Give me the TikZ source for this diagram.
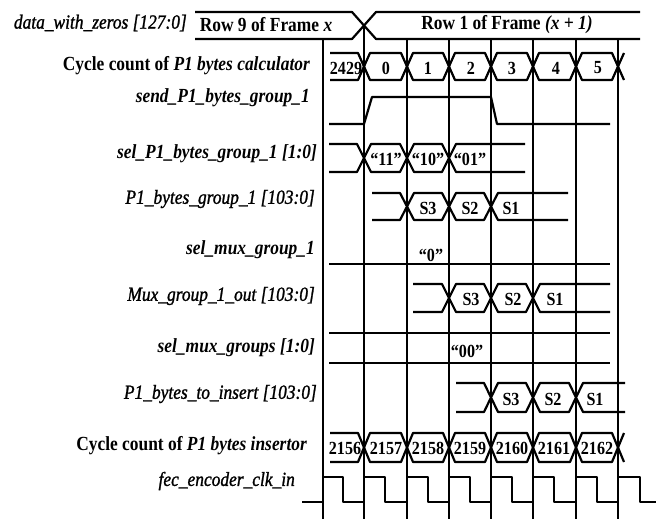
\documentclass[tikz,border=0pt]{standalone}
\usepackage{fontspec}
\setmainfont{Liberation Serif}[FakeStretch=0.87]
\newfontface\meditfont{Liberation Serif Italic}[FakeStretch=0.87, FakeBold=1.2]
\newcommand\lfont{\fontsize{20}{22}\selectfont}
\newcommand\vfont{\fontsize{18.5}{20}\selectfont\bfseries}
\newcommand{\tdHex}[5]{%
  \draw[bus] ({#1+#5},#3) -- ({#2-#5},#3) -- (#2,{(#3+#4)/2}) -- ({#2-#5},#4) -- ({#1+#5},#4) -- (#1,{(#3+#4)/2}) -- cycle;}
\newcommand{\tdOpenL}[5]{%
  \draw[bus] (#1,#3) -- ({#2-#5},#3) -- (#2,{(#3+#4)/2}) -- ({#2-#5},#4) -- (#1,#4);}
\newcommand{\tdOpenR}[5]{%
  \draw[bus] (#2,#3) -- ({#1+#5},#3) -- (#1,{(#3+#4)/2}) -- ({#1+#5},#4) -- (#2,#4);}
\newcommand{\tdEndX}[4]{%
  \draw[bus] ({#1+#4},#2) -- (#1,{(#2+#3)/2}) -- ({#1+#4},#3);}
\tikzset{
  bus/.style={line width=2.2pt, line join=round},
  gridline/.style={line width=1.6pt},
  lbl/.style={anchor=east, inner sep=0pt, font=\lfont},
  val/.style={inner sep=0pt, font=\vfont},
  rowtxt/.style={inner sep=0pt, font=\lfont\bfseries}
}
\begin{document}
\begin{tikzpicture}[x=1pt,y=-1pt]
\useasboundingbox (0,0) rectangle (656,519);
% grid
\foreach \gx in {323,407,449,491,533,576,618} \draw[gridline] (\gx,39) -- (\gx,519);
\draw[gridline] (364,25) -- (364,519);
% signal names
\node[lbl] (n1) at (187,23) {\meditfont data\_with\_zeros [127:0]};
\node[lbl] (n2) at (310,66) {\bfseries Cycle count of \itshape P1 bytes calculator};
\node[lbl] (n3) at (310,98) {\bfseries\itshape send\_P1\_bytes\_group\_1};
\node[lbl] (n4) at (317,154) {\bfseries\itshape sel\_P1\_bytes\_group\_1 [1:0]};
\node[lbl] (n5) at (315,199) {\meditfont P1\_bytes\_group\_1 [103:0]};
\node[lbl] (n6) at (315,250) {\bfseries\itshape sel\_mux\_group\_1};
\node[lbl] (n7) at (315,296) {\meditfont Mux\_group\_1\_out [103:0]};
\node[lbl] (n8) at (315,348) {\bfseries\itshape sel\_mux\_groups [1:0]};
\node[lbl] (n9) at (317,394) {\meditfont P1\_bytes\_to\_insert [103:0]};
\node[lbl] (n10) at (307,446) {\bfseries Cycle count of \itshape P1 bytes insertor};
\node[lbl] (n11) at (295,481) {\meditfont fec\_encoder\_clk\_in};
% data_with_zeros
\tdOpenL{195}{364}{12}{39}{12}
\tdOpenR{364}{640}{12}{39}{12}
\node[rowtxt] (r9) at (266,25) {Row 9 of Frame \itshape x};
\node[rowtxt] (r1) at (507,25) {Row 1 of Frame \itshape (x + 1)};
% cycle count calculator
\tdOpenL{330}{364}{53}{80}{6}
\tdHex{364}{407}{53}{80}{6}
\tdHex{407}{449}{53}{80}{6}
\tdHex{449}{491}{53}{80}{6}
\tdHex{491}{533}{53}{80}{6}
\tdHex{533}{576}{53}{80}{6}
\tdHex{576}{618}{53}{80}{6}
\tdEndX{618}{53}{80}{6}
\node[val] (c0) at (346,68) {2429};
\node[val] (c1) at (386,68) {0};
\node[val] (c2) at (428,68) {1};
\node[val] (c3) at (471,68) {2};
\node[val] (c4) at (512,68) {3};
\node[val] (c5) at (556,68) {4};
\node[val] (c6) at (598,68) {5};
% send
\draw[bus] (329,124) -- (364,124) -- (372,97) -- (491,97) -- (497,124) -- (610,124);
% sel_P1_bytes_group_1
\tdOpenL{329}{364}{144}{172}{7}
\tdHex{364}{407}{144}{172}{7}
\tdHex{407}{449}{144}{172}{7}
\tdOpenR{449}{525}{144}{172}{7}
\node[val] (s1) at (386,159) {“11”};
\node[val] (s2) at (428,159) {“10”};
\node[val] (s3) at (470,159) {“01”};
% P1_bytes_group_1
\tdOpenL{372}{407}{193}{220}{7}
\tdHex{407}{449}{193}{220}{7}
\tdHex{449}{491}{193}{220}{7}
\tdOpenR{491}{568}{193}{220}{7}
\node[val] (p1) at (428,208) {S3};
\node[val] (p2) at (470,208) {S2};
\node[val] (p3) at (511,208) {S1};
% sel_mux_group_1
\draw[bus] (329,264) -- (610,264);
\node[val] (m0) at (431,255) {“0”};
% Mux_group_1_out
\tdOpenL{413}{449}{284}{312}{7}
\tdHex{449}{491}{284}{312}{7}
\tdHex{491}{533}{284}{312}{7}
\tdOpenR{533}{610}{284}{312}{7}
\node[val] (x1) at (471,299) {S3};
\node[val] (x2) at (513,299) {S2};
\node[val] (x3) at (555,299) {S1};
% sel_mux_groups
\draw[bus] (329,333) -- (610,333);
\draw[bus] (329,363) -- (610,363);
\node[val] (g0) at (467,351) {“00”};
% P1_bytes_to_insert
\tdOpenL{456}{491}{383}{412}{7}
\tdHex{491}{533}{383}{412}{7}
\tdHex{533}{576}{383}{412}{7}
\tdOpenR{576}{625}{383}{412}{7}
\node[val] (t1) at (511,399) {S3};
\node[val] (t2) at (553,399) {S2};
\node[val] (t3) at (595,399) {S1};
% cycle count insertor
\tdOpenL{330}{364}{433}{462}{6}
\tdHex{364}{407}{433}{462}{6}
\tdHex{407}{449}{433}{462}{6}
\tdHex{449}{491}{433}{462}{6}
\tdHex{491}{533}{433}{462}{6}
\tdHex{533}{576}{433}{462}{6}
\tdHex{576}{618}{433}{462}{6}
\tdEndX{618}{433}{462}{6}
\node[val] (i0) at (345,448) {2156};
\node[val] (i1) at (386,448) {2157};
\node[val] (i2) at (428,448) {2158};
\node[val] (i3) at (470,448) {2159};
\node[val] (i4) at (512,448) {2160};
\node[val] (i5) at (554,448) {2161};
\node[val] (i6) at (597,448) {2162};
% clock
\draw[bus] (302,502) -- (323,502) |- (343,477) |- (364,502) |- (385,477) |- (407,502)
  |- (428,477) |- (449,502) |- (470,477) |- (491,502) |- (512,477) |- (533,502)
  |- (554,477) |- (576,502) |- (597,477) |- (618,502) |- (640,477) |- (656,502);
\end{tikzpicture}
\end{document}
